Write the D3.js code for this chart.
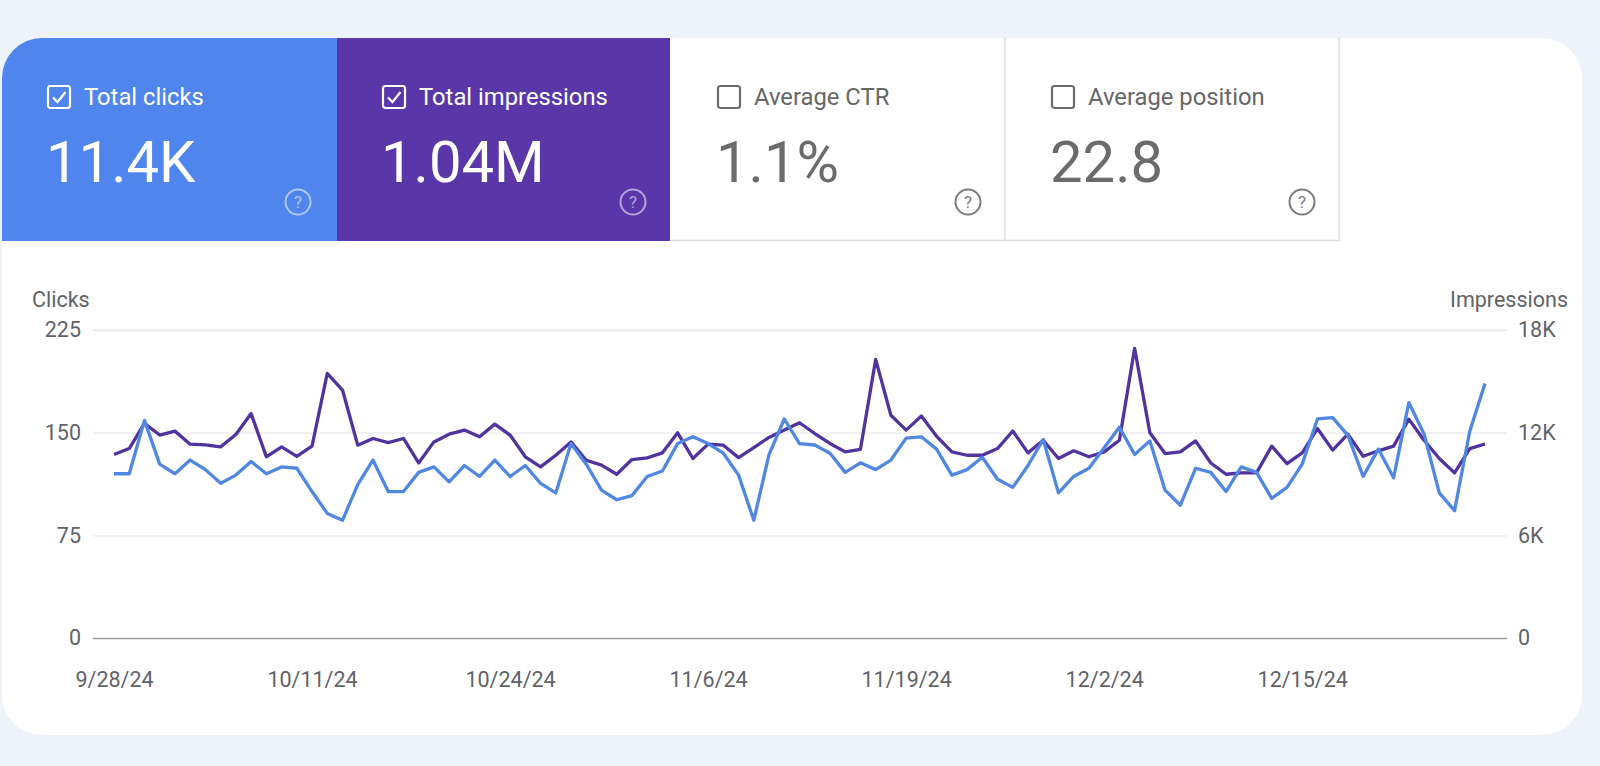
<!DOCTYPE html>
<html><head><meta charset="utf-8">
<script src="https://cdn.jsdelivr.net/npm/d3@7"></script>
<style>
body{margin:0;background:#eef2f9;}
svg{display:block;font-family:Roboto,"Noto Sans",sans-serif;}
</style>
</head><body><svg id="c" width="1600" height="766"></svg>
<script>
const startDate = "2024-09-28";
const clicks = [120,120,159,127,120,130,123,113,119,129,120,125,124,107,91,86,112,130,107,107,
  121,125,114,126,118,130,118,126,113,106,142,127,108,101,104,118,122,142,147,142,
  135,119,86,134,160,142,141,135,121,128,123,130,146,147,138,119,123,132,116,110,
  126,145,106,118,124,139,154,134,144,108,97,124,121,107,125,121,102,110,127,160,
  161,148,118,138,117,172,149,106,93,151,186];
const impressions = [10720,11070,12540,11860,12090,11330,11290,11170,11890,13120,10590,11170,10620,11210,15460,14490,11270,11660,11420,11660,
  10230,11460,11910,12150,11760,12500,11860,10590,10000,10680,11460,10390,10100,9570,10430,10530,10820,11990,10490,11330,
  11270,10540,11130,11720,12150,12580,11950,11370,10880,11030,16280,13020,12150,12970,11790,10880,10680,10680,11070,12100,
  10820,11560,10490,10940,10590,10880,11560,16930,11990,10780,10880,11520,10230,9570,9650,9650,11210,10190,10820,12240,
  10980,11910,10620,10940,11210,12790,11560,10490,9650,11070,11340];
const xTickLabels = ["9/28/24","10/11/24","10/24/24","11/6/24","11/19/24","12/2/24","12/15/24"];
const clickTicks = [0,75,150,225];
const impTicks = [0,6000,12000,18000];
const impTickLabels = ["0","6K","12K","18K"];
const metricLabels = ["Total clicks","Total impressions","Average CTR","Average position"];
const metricValues = ["11.4K","1.04M","1.1%","22.8"];
const metricChecked = [true,true,false,false];

const C = {blueCard:"#4f85ec", purpleCard:"#5a37a9", blueLine:"#5087e2", purpleLine:"#5133a0",
  text:"#5f6368", grid:"#e8e8e8", base:"#9a9a9a", border:"#dadce0"};

const svg = d3.select("#c");
const defs = svg.append("defs");
defs.append("clipPath").attr("id","cardclip").append("rect")
  .attr("x",2).attr("y",38).attr("width",1580).attr("height",697).attr("rx",40);

svg.append("rect").attr("x",2).attr("y",38).attr("width",1580).attr("height",697).attr("rx",40).attr("fill","#fff");

// metric cards
const cardX = [2,337,670,1005];
const cardW = [335,333,335,334];
const cardFill = [C.blueCard,C.purpleCard,"#fff","#fff"];
const cards = svg.append("g").attr("clip-path","url(#cardclip)");
cardX.forEach((cx,i)=>{
  cards.append("rect").attr("x",cx).attr("y",38).attr("width",cardW[i]).attr("height",203).attr("fill",cardFill[i]);
});
cards.append("line").attr("x1",670).attr("x2",1339).attr("y1",240.5).attr("y2",240.5).attr("stroke",C.border).attr("stroke-width",1.5);
[1005,1339].forEach(lx=>cards.append("line").attr("x1",lx).attr("x2",lx).attr("y1",38).attr("y2",241).attr("stroke",C.border).attr("stroke-width",1.5));

const offs = [47,382,717,1051];
metricLabels.forEach((lab,i)=>{
  const g = svg.append("g").attr("transform",`translate(${offs[i]},0)`);
  const on = metricChecked[i];
  g.append("rect").attr("x",1).attr("y",86).attr("width",22).attr("height",22).attr("rx",2.5)
    .attr("fill","none").attr("stroke",on?"#fff":"#6b6b6b").attr("stroke-width",2.2);
  if(on){
    g.append("path").attr("d","M6,97.5 L10.5,102 L18.5,92").attr("fill","none").attr("stroke","#fff").attr("stroke-width",2.2);
  }
  g.append("text").attr("x",37).attr("y",105).attr("font-size",23.8).attr("fill",on?"#fff":"#666").text(lab);
  g.append("text").attr("x",-1).attr("y",182).attr("font-size",58).attr("fill",on?"#fff":"#6b6b6b").attr("font-weight",400).text(metricValues[i]);
  const hx = 251, hy = 202;
  const hc = on ? "rgba(255,255,255,0.55)" : "#7a7a7a";
  g.append("circle").attr("cx",hx).attr("cy",hy).attr("r",12.5).attr("fill","none").attr("stroke",hc).attr("stroke-width",2);
  g.append("text").attr("x",hx).attr("y",hy+6).attr("text-anchor","middle").attr("font-size",17).attr("fill",hc).text("?");
});

// chart
const parse = d3.timeParse("%Y-%m-%d");
const t0 = parse(startDate);
const dates = clicks.map((_,i)=>d3.timeDay.offset(t0,i));
const tickDates = xTickLabels.map(s=>d3.timeParse("%m/%d/%y")(s));

const x = d3.scaleTime().domain([dates[0],dates[dates.length-1]]).range([114,1485]);
const yL = d3.scaleLinear().domain([0,225]).range([638,330]);
const yR = d3.scaleLinear().domain([0,18000]).range([638,330]);
const gridL = 93, gridR = 1507;

// grid
const grid = svg.append("g").attr("transform",`translate(${gridL},0)`)
  .call(d3.axisRight(yL).tickValues(clickTicks).tickSize(gridR-gridL).tickFormat(""));
grid.select(".domain").remove();
grid.selectAll(".tick line").attr("stroke",d=>d===0?C.base:C.grid).attr("stroke-width",d=>d===0?1.6:1.3);

const axL = svg.append("g").attr("transform",`translate(${gridL},0)`)
  .call(d3.axisLeft(yL).tickValues(clickTicks).tickSize(0).tickPadding(12));
const axR = svg.append("g").attr("transform",`translate(${gridR},0)`)
  .call(d3.axisRight(yR).tickValues(impTicks).tickSize(0).tickPadding(11).tickFormat((d,i)=>impTickLabels[i]));
const axB = svg.append("g").attr("transform",`translate(0,${yL(0)})`)
  .call(d3.axisBottom(x).tickValues(tickDates).tickSize(0).tickPadding(34).tickFormat((d,i)=>xTickLabels[i]));
[axL,axR,axB].forEach(a=>{
  a.select(".domain").remove();
  a.selectAll("text").attr("font-size",21.5).attr("fill",C.text).attr("font-family","Roboto,'Noto Sans',sans-serif");
});

svg.append("text").attr("x",32).attr("y",307).attr("font-size",21.5).attr("fill",C.text).text("Clicks");
svg.append("text").attr("x",1568).attr("y",307).attr("text-anchor","end").attr("font-size",21.5).attr("fill",C.text).text("Impressions");

const lineImp = d3.line().x((d,i)=>x(dates[i])).y(d=>yR(d));
const lineClk = d3.line().x((d,i)=>x(dates[i])).y(d=>yL(d));
svg.append("path").datum(impressions).attr("d",lineImp).attr("fill","none").attr("stroke",C.purpleLine).attr("stroke-width",3.3).attr("stroke-linejoin","round");
svg.append("path").datum(clicks).attr("d",lineClk).attr("fill","none").attr("stroke",C.blueLine).attr("stroke-width",3.3).attr("stroke-linejoin","round");
</script>
</body></html>
